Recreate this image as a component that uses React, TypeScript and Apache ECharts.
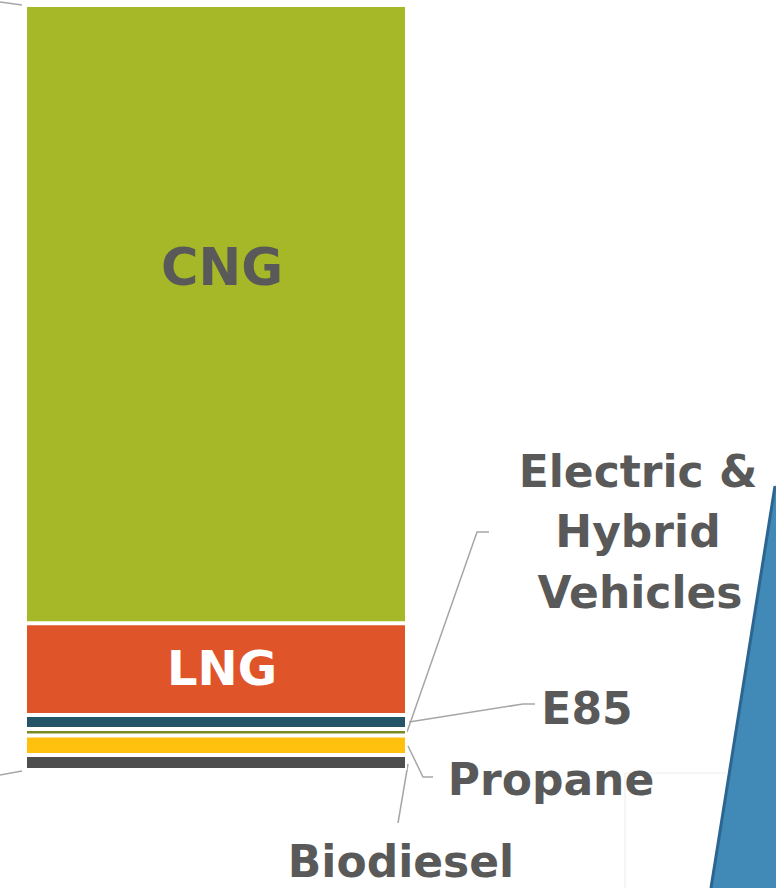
import React, { useEffect, useRef } from "react";
import * as echarts from "echarts";

const categories = ["Fuel"];
const seriesNames = ["Biodiesel", "Propane", "E85", "Electric & Hybrid Vehicles", "LNG", "CNG"];
const seriesValues = [1.96, 2.55, 0.85, 1.83, 12.0, 80.8];
const seriesColors = ["#4d4d4d", "#ffc10e", "#7a8a25", "#245468", "#e0542a", "#a6b828"];
const insideLabels: Record<string, { text: string; color: string; size: number; offset: number[] }> = {
  CNG: { text: "CNG", color: "#595959", size: 51, offset: [6, -47] },
  LNG: { text: "LNG", color: "#ffffff", size: 48, offset: [6, -1] },
};

const FONT = "DejaVu Sans";
const TEXT = "#595959";
const LEAD = "#a6a6a6";

export default function App() {
  const ref = useRef<HTMLDivElement>(null);
  useEffect(() => {
    document.body.style.margin = "0";
    const chart = echarts.init(ref.current!, null, { renderer: "svg" });
    const total = seriesValues.reduce((a, b) => a + b, 0);
    const lead = (points: number[][]) => ({
      type: "polyline",
      shape: { points },
      style: { stroke: LEAD, lineWidth: 1.5, fill: "none" },
      silent: true,
    });
    const txt = (text: string, x: number, y: number) => ({
      type: "text",
      x,
      y,
      style: {
        text,
        fill: TEXT,
        font: `bold 44px "${FONT}"`,
        textAlign: "center",
        textVerticalAlign: "middle",
      },
    });
    chart.setOption({
      animation: false,
      grid: { left: 25, right: 369, top: 5, bottom: 118 },
      xAxis: { type: "category", data: categories, show: false },
      yAxis: { type: "value", min: 0, max: total, show: false },
      series: seriesNames.map((name, i) => ({
        name,
        type: "bar",
        stack: "total",
        barWidth: "100%",
        data: [seriesValues[i]],
        itemStyle: { color: seriesColors[i], borderColor: "#ffffff", borderWidth: 2 },
        label: insideLabels[name]
          ? {
              show: true,
              position: "inside",
              formatter: insideLabels[name].text,
              color: insideLabels[name].color,
              fontSize: insideLabels[name].size,
              fontWeight: "bold",
              fontFamily: FONT,
              offset: insideLabels[name].offset,
            }
          : { show: false },
      })),
      graphic: [
        lead([[0, 2], [22, 5]]),
        lead([[0, 775], [22, 771]]),
        lead([[407, 732], [477, 532], [489, 532]]),
        lead([[409, 722], [523, 704], [535, 704]]),
        lead([[408, 746], [423, 777], [433, 777]]),
        lead([[408, 764], [398, 823]]),
        {
          type: "polyline",
          shape: { points: [[625, 888], [625, 773], [726, 773]] },
          style: { stroke: "#ececec", lineWidth: 1, fill: "none" },
          silent: true,
        },
        {
          type: "polygon",
          shape: { points: [[776, 484], [776, 888], [710, 888]] },
          style: { fill: "#4189b6" },
          silent: true,
        },
        {
          type: "line",
          shape: { x1: 775, y1: 486, x2: 711, y2: 888 },
          style: { stroke: "#2c6690", lineWidth: 3 },
          silent: true,
        },
        txt("Electric &", 638, 471),
        txt("Hybrid", 638, 531),
        txt("Vehicles", 640, 592),
        txt("E85", 587, 708),
        txt("Propane", 551, 779),
        txt("Biodiesel", 401, 861),
      ],
    });
    return () => chart.dispose();
  }, []);
  return <div ref={ref} style={{ width: 776, height: 888 }} />;
}
